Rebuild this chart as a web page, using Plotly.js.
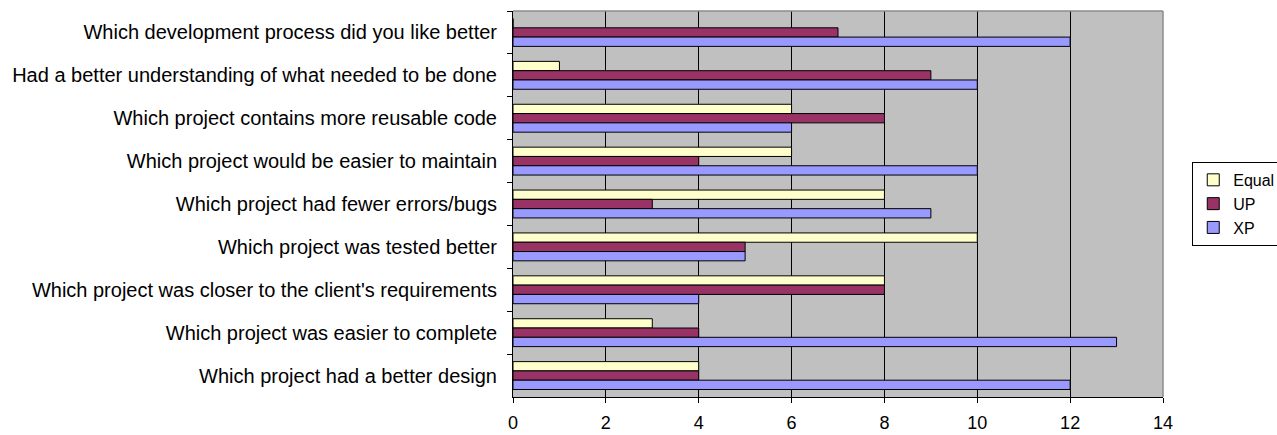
<!DOCTYPE html>
<html>
<head>
<meta charset="utf-8">
<script src="https://cdn.plot.ly/plotly-3.0.1.min.js"></script>
<style>
  html, body { margin: 0; padding: 0; background: #ffffff; }
  #chart { width: 1277px; height: 435px; }
</style>
</head>
<body>
<div id="chart"></div>
<script>
// Survey questions, listed top to bottom
const questions = [
  "Which development process did you like better",
  "Had a better understanding of what needed to be done",
  "Which project contains more reusable code",
  "Which project would be easier to maintain",
  "Which project had fewer errors/bugs",
  "Which project was tested better",
  "Which project was closer to the client's requirements",
  "Which project was easier to complete",
  "Which project had a better design"
];

// Number of answers per option
const equalVotes = [0, 1, 6, 6, 8, 10, 8, 3, 4];
const upVotes    = [7, 9, 8, 4, 3, 5, 8, 4, 4];
const xpVotes    = [12, 10, 6, 10, 9, 5, 4, 13, 12];

const xTicks = [0, 2, 4, 6, 8, 10, 12, 14];

function series(name, values, color) {
  return {
    type: 'bar',
    orientation: 'h',
    name: name,
    y: questions,
    x: values,
    marker: { color: color, line: { color: '#000000', width: 1 } },
    hoverinfo: 'x+name'
  };
}

const data = [
  series('Equal', equalVotes, '#FFFFCC'),
  series('UP', upVotes, '#993366'),
  series('XP', xpVotes, '#9999FF')
];

const layout = {
  width: 1277,
  height: 435,
  margin: { l: 513, r: 114, t: 11, b: 38, autoexpand: false },
  paper_bgcolor: '#ffffff',
  plot_bgcolor: '#C0C0C0',
  barmode: 'group',
  bargap: 0.35,
  bargroupgap: 0,
  font: { family: 'Liberation Sans, Arial, sans-serif', color: '#000000' },
  xaxis: {
    range: [0, 14],
    tickvals: xTicks,
    ticktext: xTicks.map(String),
    showgrid: true,
    gridcolor: '#000000',
    gridwidth: 1,
    zeroline: false,
    showline: true,
    linecolor: '#000000',
    linewidth: 1,
    ticks: 'outside',
    ticklen: 5,
    tickcolor: '#000000',
    tickfont: { size: 18 },
    ticklabelstandoff: 4,
    fixedrange: true
  },
  yaxis: {
    autorange: 'reversed',
    type: 'category',
    showgrid: false,
    zeroline: false,
    showline: true,
    linecolor: '#000000',
    linewidth: 1,
    ticks: 'outside',
    tickson: 'boundaries',
    ticklen: 5,
    tickcolor: '#000000',
    tickfont: { size: 20 },
    ticklabelstandoff: 11,
    fixedrange: true
  },
  // grey frame along the top and right of the plotting area
  shapes: [
    { type: 'line', xref: 'paper', yref: 'paper', x0: 0, x1: 1, y0: 1, y1: 1,
      line: { color: '#8c8c8c', width: 1.5 } },
    { type: 'line', xref: 'paper', yref: 'paper', x0: 1, x1: 1, y0: 0, y1: 1,
      line: { color: '#8c8c8c', width: 1.5 } }
  ],
  legend: {
    x: 1.045,
    y: 0.609,
    xanchor: 'left',
    yanchor: 'top',
    bgcolor: '#ffffff',
    bordercolor: '#000000',
    borderwidth: 1,
    font: { size: 16 },
    traceorder: 'normal',
    itemwidth: 30
  },
  showlegend: true
};

Plotly.newPlot('chart', data, layout, { displayModeBar: false, staticPlot: true });
</script>
</body>
</html>
